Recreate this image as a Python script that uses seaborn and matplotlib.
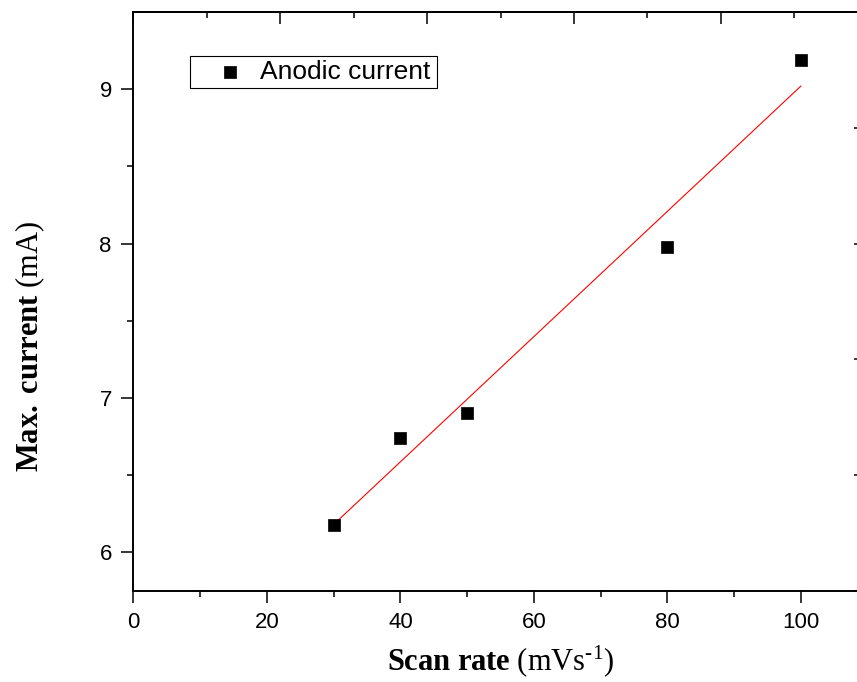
import numpy as np
import pandas as pd
import matplotlib
matplotlib.use("Agg")
import matplotlib.pyplot as plt
from matplotlib.patches import Rectangle
from matplotlib.ticker import FixedLocator, NullFormatter
import seaborn as sns

# Peak anodic current versus scan rate
scan_rate = [30, 40, 50, 80, 100]            # mV/s
max_current = [6.18, 6.74, 6.90, 7.98, 9.19]  # mA
series_name = "Anodic current"

x_major = [0, 20, 40, 60, 80, 100]
x_minor = [10, 30, 50, 70, 90]
y_major = [6, 7, 8, 9]
y_minor = [6.5, 7.5, 8.5]
top_major = [0, 22, 44, 66, 88, 110]
top_minor = [11, 33, 55, 77, 99]
right_ticks = [5.75, 6.5, 7.25, 8.0, 8.75, 9.5]

df = pd.DataFrame({"rate": scan_rate, "current": max_current})

sns.set_theme(style="white")
plt.rcParams.update({
    "font.family": ["Liberation Sans", "DejaVu Sans"],
    "mathtext.fontset": "custom",
    "mathtext.rm": "Liberation Serif",
    "mathtext.bf": "Liberation Serif:bold",
    "mathtext.it": "Liberation Serif:italic",
    "axes.edgecolor": "black",
    "axes.linewidth": 1.4,
    "text.color": "black",
    "axes.labelcolor": "black",
    "xtick.color": "black",
    "ytick.color": "black",
})

fig = plt.figure(figsize=(8.57, 6.82), dpi=100)
ax = fig.add_axes([0.15560, 0.13358, 0.85700, 0.84868])

# linear fit through the measured points
sns.regplot(data=df, x="rate", y="current", scatter=False, ci=None,
            color="red", line_kws={"linewidth": 0.8}, truncate=True, ax=ax)
sns.scatterplot(data=df, x="rate", y="current", marker="s", s=85,
                color="black", edgecolor="black", linewidth=0.5,
                label=series_name, ax=ax, zorder=3)

ax.set_xlim(0, 110)
ax.set_ylim(5.75, 9.5)

ax.xaxis.set_major_locator(FixedLocator(x_major))
ax.xaxis.set_minor_locator(FixedLocator(x_minor))
ax.yaxis.set_major_locator(FixedLocator(y_major))
ax.yaxis.set_minor_locator(FixedLocator(y_minor))
ax.set_xticklabels([str(v) for v in x_major])
ax.set_yticklabels([str(v) for v in y_major])

ax.tick_params(axis="both", which="major", direction="out", length=8.5,
               width=1.1, color="black", labelcolor="black", labelsize=16,
               pad=7, bottom=True, left=True, top=False, right=False)
ax.tick_params(axis="both", which="minor", direction="out", length=4.5,
               width=1.1, color="black", bottom=True, left=True,
               top=False, right=False)

# top axis ticks (inward, unlabeled)
top = ax.secondary_xaxis("top")
top.xaxis.set_major_locator(FixedLocator(top_major))
top.xaxis.set_minor_locator(FixedLocator(top_minor))
top.xaxis.set_major_formatter(NullFormatter())
top.tick_params(which="major", direction="in", length=8.5, width=1.1, color="black")
top.tick_params(which="minor", direction="in", length=4.5, width=1.1, color="black")
top.spines["top"].set_linewidth(1.4)

# right axis ticks (inward, unlabeled)
right = ax.secondary_yaxis("right")
right.yaxis.set_major_locator(FixedLocator(right_ticks))
right.yaxis.set_minor_locator(FixedLocator([]))
right.yaxis.set_major_formatter(NullFormatter())
right.tick_params(which="major", direction="in", length=10, width=1.1, color="black")

ax.set_xlabel("$\\mathbf{Scan\\ rate}\\ \\mathrm{(mVs^{\u20101})}$", fontsize=22)
ax.set_ylabel(r"$\mathbf{Max.\ current}\ \mathrm{(mA)}$", fontsize=22)
ax.xaxis.label.set_va("center")
ax.yaxis.label.set_va("center")
ax.xaxis.set_label_coords(0.5003, -0.121)
ax.yaxis.set_label_coords(-0.141, 0.422)

# legend: square-cornered box with the entry inside
ax.add_patch(Rectangle((0.0772, 0.8689), 0.3363, 0.0553, transform=ax.transAxes,
                       facecolor="white", edgecolor="black", linewidth=0.8,
                       zorder=4))
leg = ax.legend(loc="center left", bbox_to_anchor=(0.0900, 0.8965),
                frameon=False, fontsize=19, borderpad=0, handletextpad=0.0,
                handlelength=2.3, borderaxespad=0, markerscale=1.0)
leg.set_zorder(5)

fig.savefig("out.png", dpi=100)
